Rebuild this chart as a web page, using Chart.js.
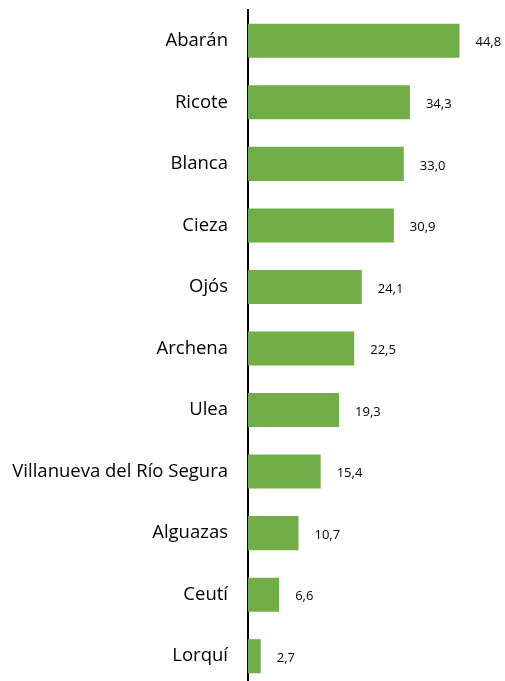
<!DOCTYPE html>
<html>
<head>
<meta charset="utf-8">
<script src="https://cdn.jsdelivr.net/npm/chart.js@4"></script>
<style>
  html, body { margin: 0; padding: 0; background: #fff; overflow: hidden; }
  .wrap { position: relative; width: 505px; height: 690px; }
</style>
</head>
<body>
<div class="wrap"><canvas id="barChart"></canvas></div>
<script>
var municipios = ['Abarán', 'Ricote', 'Blanca', 'Cieza', 'Ojós', 'Archena', 'Ulea',
    'Villanueva del Río Segura', 'Alguazas', 'Ceutí', 'Lorquí'];
var valores = [44.8, 34.3, 33.0, 30.9, 24.1, 22.5, 19.3, 15.4, 10.7, 6.6, 2.7];

var FONT = '"Open Sans", "Liberation Sans", sans-serif';

// etiquetas de valor al final de cada barra, con coma decimal
var valueLabels = {
    id: 'valueLabels',
    afterDatasetsDraw: function(chart) {
        var ctx = chart.ctx;
        var meta = chart.getDatasetMeta(0);
        ctx.save();
        ctx.font = '13px ' + FONT;
        ctx.fillStyle = '#000';
        ctx.textAlign = 'left';
        ctx.textBaseline = 'middle';
        meta.data.forEach(function(bar, i) {
            var txt = valores[i].toFixed(1).replace('.', ',');
            ctx.fillText(txt, bar.x + 16, bar.y + 2);
        });
        ctx.restore();
    }
};

var ctx = document.getElementById('barChart').getContext('2d');
new Chart(ctx, {
    type: 'bar',
    data: {
        labels: municipios,
        datasets: [{
            data: valores,
            backgroundColor: '#70AD47',
            borderWidth: 0,
            barPercentage: 0.553,
            categoryPercentage: 1
        }]
    },
    options: {
        indexAxis: 'y',
        responsive: true,
        maintainAspectRatio: false,
        animation: false,
        layout: { padding: { top: 10, bottom: 3, right: 21, left: 0 } },
        plugins: { legend: { display: false }, tooltip: { enabled: false } },
        scales: {
            x: {
                display: false,
                min: 0,
                max: 50
            },
            y: {
                afterFit: function(scale) {
                    scale.width = 248;
                    scale.paddingTop = 0;
                    scale.paddingBottom = 0;
                },
                grid: { display: false, drawTicks: false },
                border: { display: true, color: '#000', width: 2 },
                ticks: {
                    padding: 20,
                    color: '#000',
                    font: { family: FONT, size: 18.5 }
                }
            }
        }
    },
    plugins: [valueLabels]
});
</script>
</body>
</html>
